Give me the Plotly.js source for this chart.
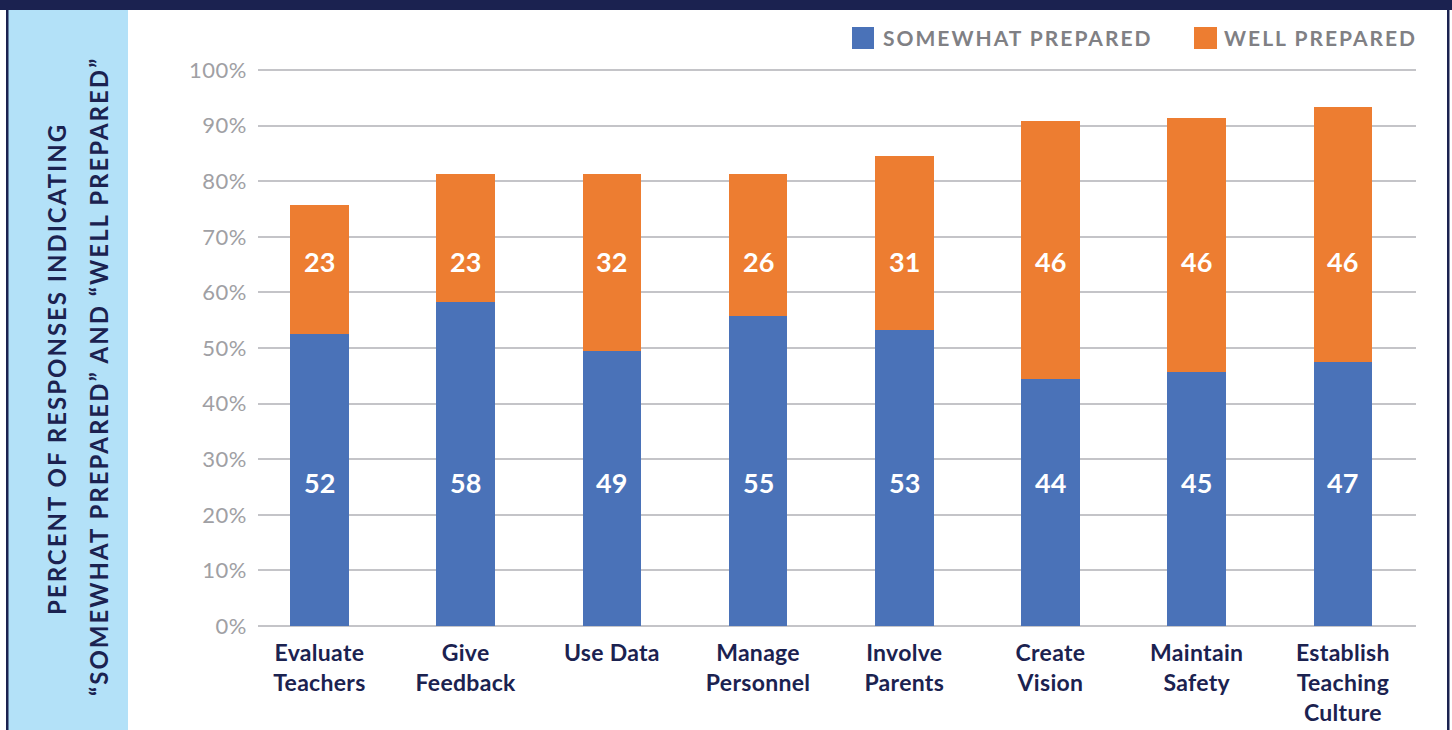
<!DOCTYPE html>
<html>
<head>
<meta charset="utf-8">
<script src="https://cdn.plot.ly/plotly-3.0.1.min.js"></script>
<style>
html,body{margin:0;padding:0;background:#fff;}
#chart{width:1452px;height:730px;}
</style>
</head>
<body>
<div id="chart"></div>
<script>
// ---- data ----
const categories = ["Evaluate<br>Teachers","Give<br>Feedback","Use Data","Manage<br>Personnel","Involve<br>Parents","Create<br>Vision","Maintain<br>Safety","Establish<br>Teaching<br>Culture"];
const somewhatPrepared = [52.5, 58.3, 49.5, 55.8, 53.2, 44.4, 45.7, 47.5];
const wellPrepared     = [23.2, 23.0, 31.8, 25.5, 31.3, 46.4, 45.7, 45.8];
const somewhatLabels = ["52","58","49","55","53","44","45","47"];
const wellLabels     = ["23","23","32","26","31","46","46","46"];
const yTickVals = [0,10,20,30,40,50,60,70,80,90,100];
const yTickText = ["0%","10%","20%","30%","40%","50%","60%","70%","80%","90%","100%"];

// ---- styling ----
const W = 1452, H = 730;
const M = {l:258, r:36, t:68, b:102};
const PW = W - M.l - M.r, PH = H - M.t - M.b;
const px = v => (v - M.l) / PW;
const py = v => (H - M.b - v) / PH;

const NAVY = "#1b2250", BLUE = "#4a72b8", ORANGE = "#ed7d31", PANEL = "#b3e1f8", GRID = "#c4c4c8";
const FONT = "Lato, 'Open Sans', sans-serif";

const traces = [
  {type:"bar", name:"SOMEWHAT PREPARED", x:categories, y:somewhatPrepared, marker:{color:BLUE}, width:0.4, hoverinfo:"skip"},
  {type:"bar", name:"WELL PREPARED", x:categories, y:wellPrepared, marker:{color:ORANGE}, width:0.4, hoverinfo:"skip"}
];

const rect = (x0,x1,y0,y1,color) => ({type:"rect", xref:"paper", yref:"paper", x0:px(x0), x1:px(x1), y0:py(y1), y1:py(y0), fillcolor:color, line:{width:0}, layer:"below"});

const shapes = [
  rect(0, W, 0, 10, NAVY),
  rect(8, 128, 10, H, PANEL),
  rect(6, 8.5, 10, H, NAVY),
  rect(1447, 1449.5, 10, H, NAVY),
  rect(852, 874, 27, 49, BLUE),
  rect(1194, 1217, 27, 49, ORANGE)
];

const annotations = [];
categories.forEach((c,i) => {
  annotations.push({x:c, y:25.8, xref:"x", yref:"y", text:somewhatLabels[i], showarrow:false, font:{family:FONT, size:27, color:"#ffffff", weight:700}});
  annotations.push({x:c, y:65.5, xref:"x", yref:"y", text:wellLabels[i], showarrow:false, font:{family:FONT, size:27, color:"#ffffff", weight:700}});
});
annotations.push({xref:"paper", yref:"paper", x:px(1017.5), y:py(38), xanchor:"center", yanchor:"middle", text:"SOMEWHAT PREPARED", showarrow:false, font:{family:FONT, size:21, color:"#808084", weight:700}, name:"spaced2"});
annotations.push({xref:"paper", yref:"paper", x:px(1320.5), y:py(38), xanchor:"center", yanchor:"middle", text:"WELL PREPARED", showarrow:false, font:{family:FONT, size:21, color:"#808084", weight:700}, name:"spaced2"});
annotations.push({xref:"paper", yref:"paper", x:px(56), y:py(369), xanchor:"center", yanchor:"middle", textangle:-90, text:"PERCENT OF RESPONSES INDICATING", showarrow:false, font:{family:FONT, size:24, color:NAVY, weight:700}, name:"spaced2"});
annotations.push({xref:"paper", yref:"paper", x:px(98), y:py(377), xanchor:"center", yanchor:"middle", textangle:-90, text:"“SOMEWHAT PREPARED” AND “WELL PREPARED”", showarrow:false, font:{family:FONT, size:24, color:NAVY, weight:700}, name:"spaced2"});

const layout = {
  width:W, height:H,
  margin:M,
  paper_bgcolor:"#ffffff", plot_bgcolor:"#ffffff",
  barmode:"stack",
  showlegend:false,
  xaxis:{type:"category", range:[-0.42, 7.5], showgrid:false, zeroline:false, showline:false, ticks:"", ticklabelstandoff:9,
         tickfont:{family:FONT, size:23, color:NAVY, weight:700}, fixedrange:true},
  yaxis:{range:[-0.36, 100.36], tickvals:yTickVals, ticktext:yTickText, showgrid:true, gridcolor:GRID, gridwidth:2,
         zeroline:true, zerolinecolor:GRID, zerolinewidth:2, showline:false, ticks:"", ticklabelstandoff:10,
         tickfont:{family:FONT, size:22, color:"#a0a0a4"}, fixedrange:true},
  shapes:shapes,
  annotations:annotations
};

Plotly.newPlot("chart", traces, layout, {displayModeBar:false, staticPlot:true}).then(gd => {
  const spaced = new Set(["SOMEWHAT PREPARED","WELL PREPARED","PERCENT OF RESPONSES INDICATING","“SOMEWHAT PREPARED” AND “WELL PREPARED”"]);
  gd.querySelectorAll("g.annotation text.annotation-text").forEach(t => {
    if (spaced.has(t.textContent)) t.style.letterSpacing = "2px";
  });
  gd.querySelectorAll("g.ytick text").forEach(t => { t.style.letterSpacing = "0.5px"; });
  gd.querySelectorAll("g.xtick text").forEach(t => { t.style.letterSpacing = "0.3px"; });
});
</script>
</body>
</html>
